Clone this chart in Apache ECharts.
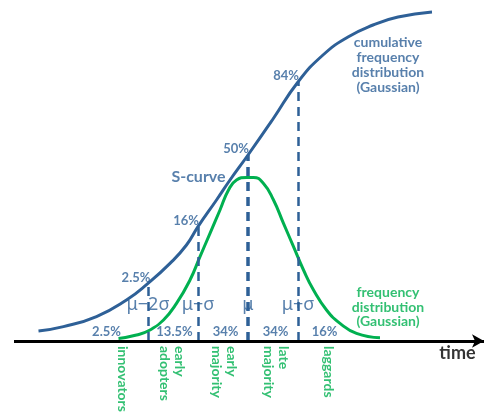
<!DOCTYPE html>
<html><head><meta charset="utf-8">
<script src="https://cdn.jsdelivr.net/npm/echarts@6/dist/echarts.min.js"></script>
<style>html,body{margin:0;padding:0;background:#fff}#c{width:489px;height:413px}</style>
</head><body><div id="c"></div>
<script>
// time in units of sigma (mu = 0); heights in arbitrary units
const sTime = [-4.19,-3.69,-3.03,-2.43,-2,-1.56,-1.23,-1,-0.63,-0.36,0,0.5,1,1.5,2,2.5,3,3.68];
const sCurve = [5,7.2,12.2,20.5,28.8,38.8,48,57.2,70.5,80.5,93,111,129.5,143,152,158,162,164.5];
const fTime = [-2.59,-2.23,-1.96,-1.69,-1.43,-1.16,-0.96,-0.76,-0.56,-0.39,-0.23,-0.03,0.11,0.31,0.51,0.71,0.91,1.11,1.31,1.57,1.84,2.17,2.64];
const fCurve = [1.3,3,5.5,10.5,18.8,30.5,42.2,53.8,65.5,75.5,80.5,81.8,81.8,78.8,70.5,58.8,47.2,35.5,25.5,15.5,8.8,3.8,1.6];
const sigmaTicks = [-2,-1,0,1];
const sigmaLabels = ['μ−2σ','μ−σ','μ','μ+σ'];
const cumulativeLabels = ['2.5%','16%','50%','84%'];
const bandLabels = ['2.5%','13.5%','34%','34%','16%'];
const bandCenters = [-2.83,-1.47,-0.45,0.55,1.53];
const adopters = ['innovators','early\nadopters','early\nmajority','late\nmajority','laggards'];
const adopterPos = [-2.5,-1.52,-0.47,0.56,1.62];
const axisRange = [-4.68, 4.72];

const BLUE = '#2E6097', GREEN = '#00B050';
const FONT = 'Lato, "Open Sans", sans-serif';
const sAt = k => sCurve[sTime.indexOf(k)];

const chart = echarts.init(document.getElementById('c'), null, {renderer:'canvas'});
const txt = (t, y, text, style) => ({value:[t,y], label:Object.assign({show:true, position:'inside', formatter:text, fontFamily:FONT}, style)});

chart.setOption({
  animation:false,
  grid:{left:0,right:0,top:0,bottom:0},
  xAxis:{type:'value',min:-4.96,max:4.82,show:false},
  yAxis:{type:'value',min:-36,max:170.5,show:false},
  series:[
    {type:'line', data:fTime.map((t,i)=>[t,fCurve[i]]), smooth:true, symbol:'none',
     lineStyle:{color:GREEN,width:3}, z:2},
    {type:'line', data:sTime.map((t,i)=>[t,sCurve[i]]), smooth:true, symbol:'none',
     lineStyle:{color:BLUE,width:3}, z:3},
    {type:'line', data:[], z:4,
     markLine:{silent:true, symbol:['none','none'], label:{show:false},
       data: sigmaTicks.map(k=>[{coord:[k,0],lineStyle:{color:BLUE,width:k===0?3.5:2.5,type:[9,6]}},{coord:[k,sAt(k)]}])}},
    {type:'line', data:[], z:5,
     markLine:{silent:true, symbol:['none','arrow'], symbolSize:[10,12], label:{show:false},
       lineStyle:{color:'#000',width:3,type:'solid'},
       data:[[{coord:[axisRange[0],0]},{coord:[axisRange[1],0]}]]}},
    {type:'scatter', symbolSize:0, itemStyle:{color:'rgba(0,0,0,0)'}, z:6, silent:true, clip:false,
     data:[].concat(
       sigmaTicks.map((k,i)=>txt(k, sAt(k), cumulativeLabels[i], {color:BLUE,fontSize:13,fontWeight:'bold',offset:[-12,-6]})),
       sigmaTicks.map((k,i)=>txt(k, 18, sigmaLabels[i], {color:BLUE,fontSize:18,fontFamily:'"Noto Sans", "DejaVu Sans", sans-serif'})),
       bandCenters.map((t,i)=>txt(t, 4.5, bandLabels[i], {color:BLUE,fontSize:13,fontWeight:'bold'})),
       adopterPos.map((t,i)=>txt(t, -2.5, adopters[i], {color:GREEN,fontSize:14,fontWeight:'bold',rotate:-90,align:'left',verticalAlign:'middle',lineHeight:15})),
       [
         txt(2.8, 138, 'cumulative\nfrequency\ndistribution\n(Gaussian)', {color:BLUE,fontSize:14,fontWeight:'bold',lineHeight:14.7,align:'center'}),
         txt(2.8, 17, 'frequency\ndistribution\n(Gaussian)', {color:GREEN,fontSize:14,fontWeight:'bold',lineHeight:14.7,align:'center'}),
         txt(-0.99, 82, 'S-curve', {color:BLUE,fontSize:16,fontWeight:'bold'}),
         txt(4.19, -6, 'time', {color:'#000',fontSize:18,fontWeight:'bold'})
       ]
     )}
  ]
});
</script></body></html>
